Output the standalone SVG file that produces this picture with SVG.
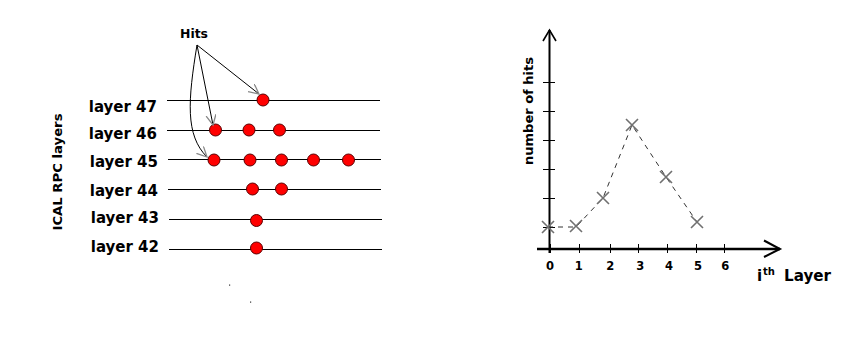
<svg xmlns="http://www.w3.org/2000/svg" width="866" height="344" viewBox="0 0 866 344">
<style>
.lbl{font-family:"DejaVu Sans",sans-serif;font-weight:bold;font-size:15px;fill:#000}
.tick{font-family:"DejaVu Sans",sans-serif;font-weight:bold;font-size:11.5px;fill:#000;text-anchor:middle}
.layer{stroke:#000;stroke-width:1;fill:none}
.hit{fill:#ff0000;stroke:#5a0000;stroke-width:1}
.arr{stroke:#000;stroke-width:1;fill:none;marker-end:url(#open)}
.ax{stroke:#000;fill:none}
.xm{stroke:#707070;stroke-width:1.6;fill:none}
</style>
<defs>
<marker id="open" markerUnits="userSpaceOnUse" markerWidth="12" markerHeight="12" refX="10" refY="5" orient="auto">
<path d="M0,0 L10,5 L0,10" fill="none" stroke="#888" stroke-width="1.3"/>
</marker>
</defs>
<rect width="866" height="344" fill="#fff"/>

<g id="layers">
<g id="layer47"><line class="layer" x1="167" y1="100.5" x2="380" y2="100.5"/><text class="lbl" x="157" y="112" text-anchor="end">layer 47</text></g>
<g id="layer46"><line class="layer" x1="167" y1="130.5" x2="380" y2="130.5"/><text class="lbl" x="157" y="139" text-anchor="end">layer 46</text></g>
<g id="layer45"><line class="layer" x1="168" y1="159.5" x2="381" y2="159.5"/><text class="lbl" x="158" y="167" text-anchor="end">layer 45</text></g>
<g id="layer44"><line class="layer" x1="168" y1="189.5" x2="381" y2="189.5"/><text class="lbl" x="158" y="196" text-anchor="end">layer 44</text></g>
<g id="layer43"><line class="layer" x1="169" y1="219.5" x2="382" y2="219.5"/><text class="lbl" x="159" y="223" text-anchor="end">layer 43</text></g>
<g id="layer42"><line class="layer" x1="169" y1="249.5" x2="382" y2="249.5"/><text class="lbl" x="159" y="252" text-anchor="end">layer 42</text></g>
</g>

<g id="hits-dots">
<circle class="hit" cx="263" cy="100" r="6"/>
<circle class="hit" cx="215.5" cy="130" r="6"/>
<circle class="hit" cx="249" cy="130" r="6"/>
<circle class="hit" cx="279.5" cy="130" r="6"/>
<circle class="hit" cx="214" cy="160" r="6"/>
<circle class="hit" cx="250" cy="160" r="6"/>
<circle class="hit" cx="281.5" cy="160" r="6"/>
<circle class="hit" cx="313.5" cy="160" r="6"/>
<circle class="hit" cx="348.5" cy="160" r="6"/>
<circle class="hit" cx="252.5" cy="189" r="6"/>
<circle class="hit" cx="281.5" cy="189" r="6"/>
<circle class="hit" cx="256.5" cy="220.5" r="6"/>
<circle class="hit" cx="256.5" cy="248" r="6"/>
</g>

<g id="hits-label">
<text x="194" y="38" text-anchor="middle" style="font-family:'DejaVu Sans',sans-serif;font-weight:bold;font-size:12px" textLength="28" lengthAdjust="spacingAndGlyphs">Hits</text>
</g>

<g id="connectors">
<path class="arr" d="M197,45 L259,94"/>
<path class="arr" d="M197,45 L213,125"/>
<path class="arr" d="M197,45 C188,100 185,135 207,157"/>
</g>

<g id="ylabel-left">
<text transform="translate(62,172) rotate(-90)" text-anchor="middle" style="font-family:'DejaVu Sans',sans-serif;font-weight:bold;font-size:12.5px" textLength="117" lengthAdjust="spacingAndGlyphs">ICAL RPC layers</text>
</g>

<g id="specks" fill="#333">
<rect x="229" y="284.5" width="1.2" height="1.2"/>
<rect x="250" y="301.5" width="1.2" height="1.2"/>
</g>

<g id="chart">
<g id="y-axis">
<line class="ax" x1="549.5" y1="30" x2="549.5" y2="253" stroke-width="2"/>
<path class="ax" d="M543,41 L549.5,30 L556,41" stroke-width="1.6"/>
<path class="ax" stroke-width="1" d="M543,82.5 H555 M543,111.5 H555 M543,140.5 H555 M543,169.5 H555 M543,198.5 H555 M543,227.5 H555"/>
<text transform="translate(533,111) rotate(-90)" text-anchor="middle" style="font-family:'DejaVu Sans',sans-serif;font-weight:bold;font-size:13px" textLength="108" lengthAdjust="spacingAndGlyphs">number of hits</text>
</g>
<g id="x-axis">
<line class="ax" x1="537" y1="249" x2="780" y2="249" stroke-width="2.5"/>
<path class="ax" d="M764,240.5 L780,249 L764,257" stroke-width="2"/>
<path class="ax" stroke-width="1" d="M550.5,244 V253 M579.5,244 V253 M610.5,244 V253 M638.5,244 V253 M667.5,244 V253 M696.5,244 V253 M724.5,244 V253"/>
<text class="tick" x="550" y="270">0</text>
<text class="tick" x="578.7" y="270">1</text>
<text class="tick" x="610.3" y="270">2</text>
<text class="tick" x="640.3" y="270">3</text>
<text class="tick" x="669" y="270">4</text>
<text class="tick" x="698" y="270">5</text>
<text class="tick" x="725.3" y="270">6</text>
<text class="lbl" x="757" y="281">i</text>
<text x="763" y="275" style="font-family:'DejaVu Sans',sans-serif;font-weight:bold;font-size:10px">th</text>
<text class="lbl" x="784" y="281" textLength="47" lengthAdjust="spacingAndGlyphs">Layer</text>
</g>
<g id="data">
<polyline points="548,227 576,227 603,198 632,125 666,177 697,222" fill="none" stroke="#333" stroke-width="1" stroke-dasharray="5 5"/>
<path class="xm" d="M542,221 l12,12 m0,-12 l-12,12"/>
<path class="xm" d="M570,220 l12,12 m0,-12 l-12,12"/>
<path class="xm" d="M597,192 l12,12 m0,-12 l-12,12"/>
<path class="xm" d="M626,119 l12,12 m0,-12 l-12,12"/>
<path class="xm" d="M660,171 l12,12 m0,-12 l-12,12"/>
<path class="xm" d="M691,216 l12,12 m0,-12 l-12,12"/>
</g>
</g>
</svg>
